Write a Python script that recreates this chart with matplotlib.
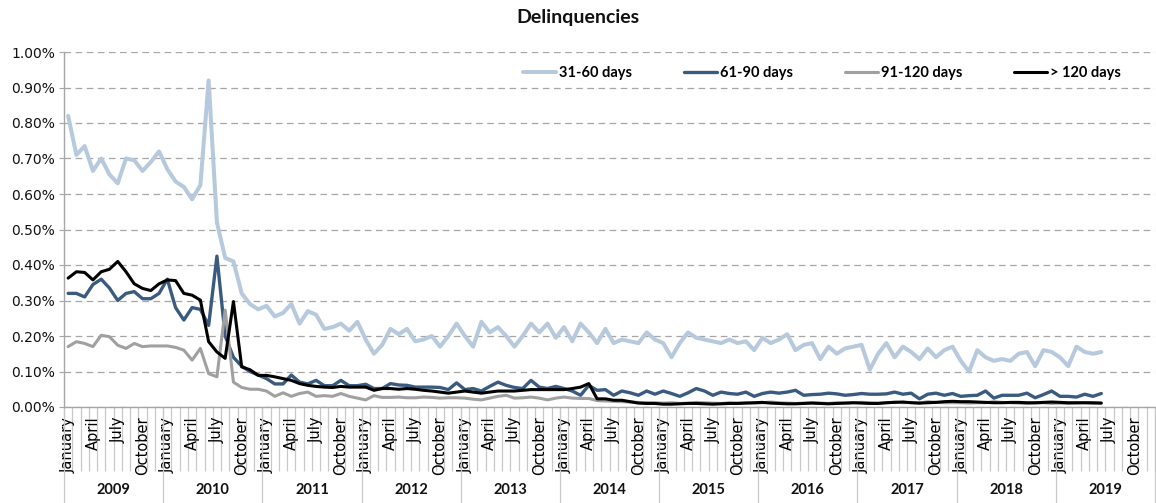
import numpy as np
import matplotlib.pyplot as plt
import matplotlib.transforms as mtransforms
from matplotlib.ticker import FuncFormatter

years = [2009, 2010, 2011, 2012, 2013, 2014, 2015, 2016, 2017, 2018, 2019]
month_names = ['January', 'February', 'March', 'April', 'May', 'June', 'July',
               'August', 'September', 'October', 'November', 'December']
shown_months = ['January', 'April', 'July', 'October']

# monthly delinquency rates in %, Jan 2009 .. Jun 2019
d31_60 = [0.82, 0.71, 0.735, 0.665, 0.70, 0.655, 0.63, 0.70, 0.695, 0.665, 0.69, 0.72,
          0.67, 0.635, 0.62, 0.585, 0.625, 0.92, 0.52, 0.42, 0.41, 0.32, 0.29, 0.275,
          0.285, 0.255, 0.265, 0.29, 0.235, 0.27, 0.26, 0.22, 0.225, 0.235, 0.215, 0.24,
          0.19, 0.15, 0.175, 0.22, 0.205, 0.22, 0.185, 0.19, 0.20, 0.17, 0.20, 0.235,
          0.20, 0.17, 0.24, 0.21, 0.225, 0.20, 0.17, 0.20, 0.235, 0.21, 0.235, 0.195,
          0.225, 0.185, 0.235, 0.21, 0.18, 0.22, 0.18, 0.19, 0.185, 0.18, 0.21, 0.19,
          0.18, 0.14, 0.18, 0.21, 0.195, 0.19, 0.185, 0.18, 0.19, 0.18, 0.185, 0.16,
          0.195, 0.18, 0.19, 0.205, 0.16, 0.175, 0.18, 0.135, 0.17, 0.15, 0.165, 0.17,
          0.175, 0.105, 0.15, 0.18, 0.14, 0.17, 0.155, 0.135, 0.165, 0.14, 0.16, 0.17,
          0.13, 0.10, 0.16, 0.14, 0.13, 0.135, 0.13, 0.15, 0.155, 0.115, 0.16, 0.155,
          0.14, 0.115, 0.17, 0.155, 0.15, 0.155]

d61_90 = [0.32, 0.32, 0.31, 0.345, 0.36, 0.335, 0.30, 0.32, 0.325, 0.305, 0.305, 0.32,
          0.36, 0.28, 0.245, 0.28, 0.275, 0.23, 0.425, 0.20, 0.14, 0.115, 0.10, 0.09,
          0.08, 0.065, 0.065, 0.09, 0.07, 0.065, 0.075, 0.06, 0.06, 0.075, 0.06, 0.06,
          0.064, 0.052, 0.052, 0.066, 0.062, 0.061, 0.056, 0.056, 0.056, 0.055, 0.049, 0.068,
          0.049, 0.052, 0.045, 0.058, 0.07, 0.061, 0.055, 0.052, 0.075, 0.056, 0.052, 0.058,
          0.052, 0.045, 0.033, 0.061, 0.047, 0.049, 0.033, 0.045, 0.04, 0.033, 0.045, 0.036,
          0.045, 0.038, 0.03, 0.04, 0.052, 0.045, 0.033, 0.042, 0.038, 0.036, 0.042, 0.03,
          0.038, 0.042, 0.039, 0.042, 0.047, 0.033, 0.035, 0.036, 0.039, 0.037, 0.033, 0.035,
          0.038, 0.036, 0.036, 0.037, 0.042, 0.036, 0.039, 0.023, 0.036, 0.039, 0.033, 0.038,
          0.03, 0.032, 0.033, 0.045, 0.025, 0.033, 0.033, 0.033, 0.039, 0.026, 0.035, 0.045,
          0.03, 0.03, 0.028, 0.036, 0.03, 0.038]

d91_120 = [0.17, 0.184, 0.179, 0.17, 0.202, 0.198, 0.174, 0.165, 0.179, 0.17, 0.172, 0.172,
           0.172, 0.168, 0.16, 0.132, 0.165, 0.094, 0.085, 0.273, 0.07, 0.055, 0.05, 0.05,
           0.045, 0.03, 0.04, 0.03, 0.038, 0.042, 0.03, 0.032, 0.03, 0.038, 0.03, 0.025,
           0.02, 0.032, 0.027, 0.027, 0.028, 0.026, 0.026, 0.028, 0.027, 0.025, 0.026, 0.026,
           0.025, 0.022, 0.02, 0.025, 0.03, 0.033, 0.025, 0.026, 0.028, 0.025, 0.02, 0.025,
           0.028, 0.025, 0.024, 0.024, 0.018, 0.017, 0.016, 0.015, 0.014, 0.013, 0.012, 0.012,
           0.011, 0.012, 0.01, 0.011, 0.013, 0.012, 0.011, 0.01, 0.012, 0.011, 0.012, 0.011,
           0.012, 0.014, 0.012, 0.011, 0.01, 0.011, 0.012, 0.011, 0.01, 0.012, 0.011, 0.012,
           0.013, 0.012, 0.011, 0.012, 0.014, 0.012, 0.013, 0.011, 0.015, 0.013, 0.012, 0.012,
           0.012, 0.011, 0.012, 0.012, 0.015, 0.013, 0.012, 0.011, 0.01, 0.011, 0.012, 0.01,
           0.011, 0.01, 0.011, 0.012, 0.01, 0.011]

d120_plus = [0.363, 0.381, 0.379, 0.358, 0.381, 0.388, 0.41, 0.381, 0.347, 0.334, 0.328, 0.347,
             0.358, 0.356, 0.32, 0.315, 0.301, 0.184, 0.155, 0.137, 0.297, 0.113, 0.105, 0.089,
             0.089, 0.085, 0.08, 0.075, 0.066, 0.061, 0.058, 0.056, 0.055, 0.058, 0.056, 0.056,
             0.056, 0.047, 0.052, 0.052, 0.05, 0.052, 0.05, 0.047, 0.045, 0.042, 0.039, 0.042,
             0.045, 0.042, 0.039, 0.042, 0.045, 0.045, 0.045, 0.047, 0.049, 0.049, 0.049, 0.049,
             0.049, 0.052, 0.056, 0.066, 0.023, 0.023, 0.019, 0.019, 0.015, 0.011, 0.01, 0.01,
             0.008, 0.008, 0.009, 0.01, 0.01, 0.009, 0.008, 0.009, 0.01, 0.01, 0.011, 0.012,
             0.013, 0.011, 0.01, 0.009, 0.009, 0.01, 0.011, 0.01, 0.009, 0.01, 0.011, 0.012,
             0.011, 0.01, 0.01, 0.012, 0.013, 0.014, 0.012, 0.011, 0.012, 0.013, 0.015, 0.016,
             0.015, 0.015, 0.014, 0.013, 0.012, 0.012, 0.013, 0.013, 0.012, 0.012, 0.013, 0.014,
             0.013, 0.012, 0.012, 0.012, 0.012, 0.011]

series = [('31-60 days', d31_60, '#B7C9DD', 2.9),
          ('61-90 days', d61_90, '#3B5A80', 2.4),
          ('91-120 days', d91_120, '#A0A0A0', 2.2),
          ('> 120 days', d120_plus, '#000000', 2.2)]

W, H = 1156, 503
fig = plt.figure(figsize=(W / 100, H / 100), dpi=100)
ax = fig.add_axes([64 / W, 96 / H, 1091 / W, 355 / H])

for name, vals, col, lw in series:
    ax.plot(np.arange(len(vals)), vals, color=col, lw=lw, label=name,
            solid_joinstyle='round', solid_capstyle='round')

n_months = 12 * len(years)
ax.set_xlim(-0.5, n_months - 0.5)
ax.set_ylim(0, 1.0)

grid_col = '#A6A6A6'
ax.set_yticks(np.arange(0, 1.01, 0.1))
ax.yaxis.set_major_formatter(FuncFormatter(lambda v, p: f'{v:.2f}%'))
ax.grid(axis='y', linestyle=(0, (5.3, 3.6)), color=grid_col, lw=0.9)
ax.set_axisbelow(True)
ax.tick_params(axis='y', length=3.6, color=grid_col, labelsize=10, pad=3, labelcolor='#111111')

for s in ['top', 'right']:
    ax.spines[s].set_visible(False)
for s in ['left', 'bottom']:
    ax.spines[s].set_color(grid_col)
    ax.spines[s].set_linewidth(1.0)

# month separators as long major ticks, labels on minor ticks
ax.set_xticks(np.arange(-0.5, n_months, 1.0))
ax.set_xticklabels([])
ax.tick_params(axis='x', which='major', length=46, width=0.9, color='#C8C8C8')
lab_pos = [12 * k + month_names.index(m) for k in range(len(years)) for m in shown_months]
lab_txt = [m for k in range(len(years)) for m in shown_months]
ax.set_xticks(lab_pos, minor=True)
ax.set_xticklabels(lab_txt, minor=True, rotation=90, fontsize=10.5, color='#000000')
ax.tick_params(axis='x', which='minor', length=0, pad=7)

# year blocks
trans = mtransforms.blended_transform_factory(ax.transData, fig.transFigure)
for k, yr in enumerate(years):
    ax.plot([12 * k - 0.5] * 2, [96 / H, 0], transform=trans, clip_on=False,
            color='#C8C8C8', lw=0.9)
    ax.text(12 * k + 5.5, 1 - 490 / H, str(yr), transform=trans, ha='center', va='center',
            fontsize=10.5, fontweight='bold', family='Lato', color='#111111')
ax.plot([n_months - 0.5] * 2, [96 / H, 0], transform=trans, clip_on=False,
        color='#C8C8C8', lw=0.9)

ax.legend(ncol=4, loc='center left', bbox_to_anchor=(0.421, 0.941), frameon=False,
          borderpad=0, borderaxespad=0, handlelength=2.26, handletextpad=0.2,
          columnspacing=3.56, prop={'family': 'Lato', 'weight': 'bold', 'size': 10.5})

fig.text(0.5, 1 - 18 / H, 'Delinquencies', ha='center', va='center',
         fontsize=14, fontweight='bold', family='Lato', color='#111111')

fig.savefig('out.png', dpi=100)
